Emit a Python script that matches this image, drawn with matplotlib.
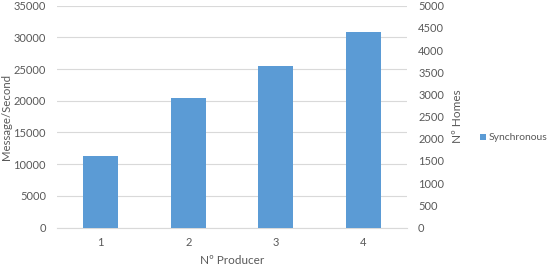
import matplotlib
matplotlib.use("Agg")
import matplotlib.pyplot as plt
import numpy as np

categories = ["1", "2", "3", "4"]
synchronous = [11300, 20500, 25500, 30900]
left_ticks = list(range(0, 35001, 5000))
right_ticks = list(range(0, 5001, 500))

plt.rcParams['font.family'] = ['Lato', 'DejaVu Sans']
txt = '#595959'
grid = '#d9d9d9'
bar_color = '#5b9bd5'

fig = plt.figure(figsize=(5.5, 2.67), dpi=100)
ax = fig.add_axes([57/550, 1-227.5/267, 350/550, (227.5-5.7)/267])
x = np.arange(len(categories))
bars = ax.bar(x, synchronous, width=0.4, color=bar_color, label="Synchronous", zorder=3)
ax.set_xlim(-0.5, len(categories)-0.5)
ax.set_ylim(0, 35000)
ax.set_yticks(left_ticks)
ax.set_xticks(x)
ax.set_xticklabels(categories)
ax.yaxis.grid(True, color=grid, linewidth=0.8, zorder=0)
for s in ['top', 'right', 'left']:
    ax.spines[s].set_visible(False)
ax.spines['bottom'].set_color(grid)
ax.tick_params(axis='both', length=0, labelsize=8, colors=txt)
ax.tick_params(axis='y', pad=8)
ax.tick_params(axis='x', pad=7)
ax.set_ylabel("Message/Second", fontsize=8.2, color=txt)
ax.yaxis.set_label_coords(-0.128, 0.5)
ax.set_xlabel("Nº Producer", fontsize=8.5, color=txt, labelpad=5)

ax2 = ax.twinx()
ax2.set_ylim(0, 5000)
ax2.set_yticks(right_ticks)
for s in ['top', 'right', 'left', 'bottom']:
    ax2.spines[s].set_visible(False)
ax2.tick_params(axis='y', length=0, labelsize=8, colors=txt, pad=8)
ax2.set_ylabel("Nº Homes", fontsize=8.5, color=txt)
ax2.yaxis.set_label_coords(1.13, 0.5)

fig.legend(handles=[bars], labels=["Synchronous"], loc='center left',
           bbox_to_anchor=(480/550, 1-138/267), frameon=False, fontsize=7.5,
           borderpad=0, borderaxespad=0,
           handlelength=0.55, handleheight=0.55, handletextpad=0.25, labelcolor=txt)

fig.savefig("out.png", dpi=100)
